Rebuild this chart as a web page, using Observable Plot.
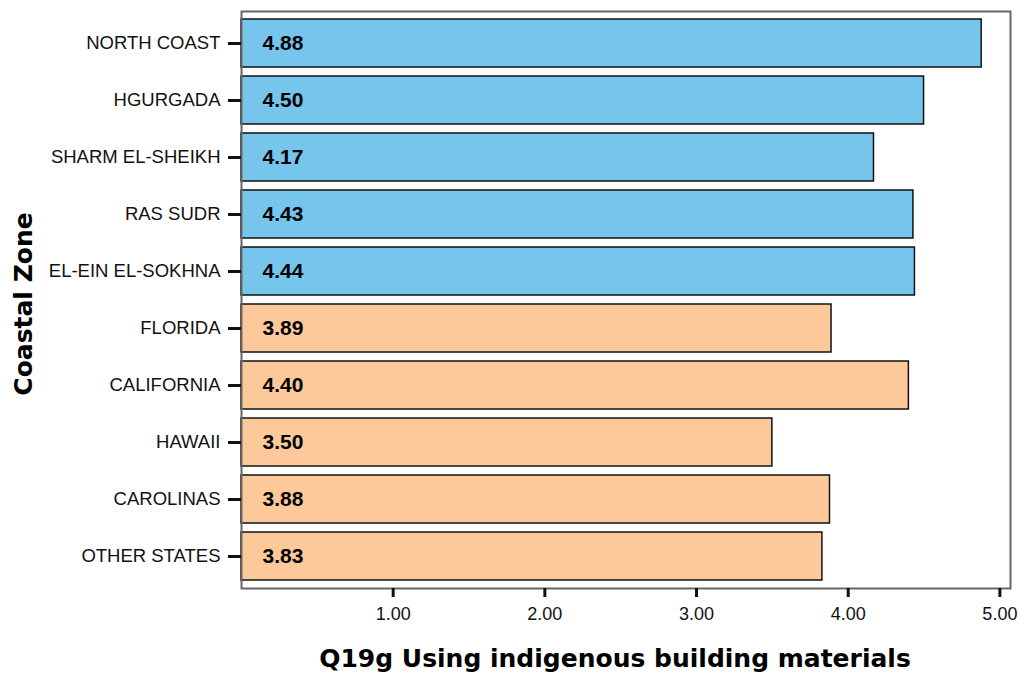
<!DOCTYPE html>
<html><head><meta charset="utf-8">
<script src="https://cdn.jsdelivr.net/npm/d3@7"></script>
<script src="https://cdn.jsdelivr.net/npm/@observablehq/plot@0.6"></script>
<style>
body{margin:0;background:#fff;}
#chart svg{display:block;}
</style>
</head><body><div id="chart"></div>
<script>
const zones = ["NORTH COAST","HGURGADA","SHARM EL-SHEIKH","RAS SUDR","EL-EIN EL-SOKHNA","FLORIDA","CALIFORNIA","HAWAII","CAROLINAS","OTHER STATES"];
const values = [4.88,4.50,4.17,4.43,4.44,3.89,4.40,3.50,3.88,3.83];
const groups = ["Egypt","Egypt","Egypt","Egypt","Egypt","USA","USA","USA","USA","USA"];
const xTicks = [1,2,3,4,5];
const data = zones.map((z,i)=>({zone:z, value:values[i], group:groups[i]}));

const plot = Plot.plot({
  width: 1019, height: 683,
  marginLeft: 241, marginRight: 9, marginTop: 11, marginBottom: 95,
  style: {fontFamily: "Arial, 'Liberation Sans', sans-serif", fontSize: "18px", color: "#111", background: "#fff"},
  x: {domain: [0, 5.07], ticks: xTicks, tickFormat: d => d.toFixed(2), label: null},
  y: {domain: zones, paddingInner: 0.15, paddingOuter: 0.08, label: null},
  color: {domain: ["Egypt","USA"], range: ["#76c5ed","#fec99a"]},
  marks: [
    Plot.barX(data, {y: "zone", x: "value", fill: "group", stroke: "#111", strokeWidth: 1.5}),
    Plot.text(data, {y: "zone", x: 0, text: d => d.value.toFixed(2), textAnchor: "start", dx: 21, fontWeight: "bold", fontSize: 21, fill: "#000", fontFamily: "Arial, 'Liberation Sans', sans-serif"}),
    Plot.frame({stroke: "#666", strokeWidth: 2}),
    Plot.axisY({tickSize: 13, strokeWidth: 3, tickPadding: 8, fontSize: 18.5, label: null, letterSpacing: 0.2}),
    Plot.axisX({ticks: xTicks, tickFormat: d => d.toFixed(2), tickSize: 9, strokeWidth: 3, tickPadding: 10, fontSize: 18, label: null, letterSpacing: 0.3}),
    Plot.text(["Q19g Using indigenous building materials"], {frameAnchor: "bottom", dy: 78, dx: -11, fontWeight: "bold", fontSize: 25, fill: "#000", fontFamily: "'DejaVu Sans', Verdana, sans-serif"}),
    Plot.text(["Coastal Zone"], {frameAnchor: "left", textAnchor: "middle", dx: -218, dy: 4, rotate: -90, fontWeight: "bold", fontSize: 25, fill: "#000", fontFamily: "'DejaVu Sans', Verdana, sans-serif"})
  ]
});
document.getElementById("chart").appendChild(plot);
</script>
</body></html>
